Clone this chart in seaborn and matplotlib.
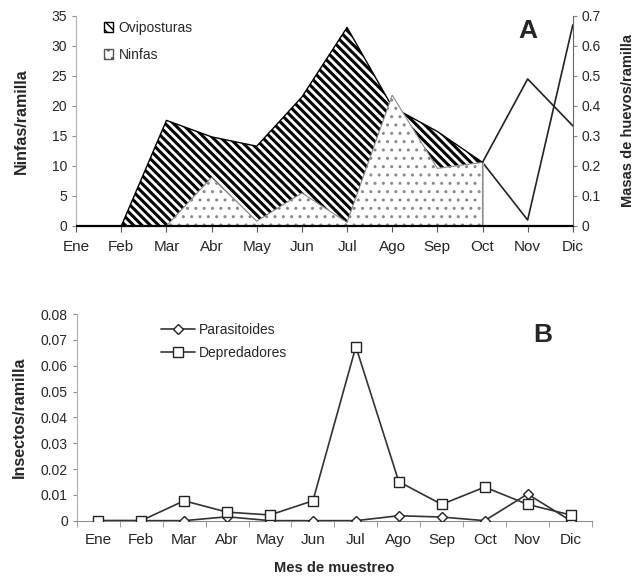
import numpy as np
import pandas as pd
import matplotlib
matplotlib.use('Agg')
import matplotlib.pyplot as plt
from matplotlib.patches import Patch
from matplotlib.lines import Line2D
import seaborn as sns

meses = ['Ene', 'Feb', 'Mar', 'Abr', 'May', 'Jun', 'Jul', 'Ago', 'Sep', 'Oct', 'Nov', 'Dic']
# panel A
ninfas = [0, 0, 0, 8.1, 0.8, 5.5, 0.6, 21.8, 9.6, 10.6, 24.5, 16.7]          # ninfas/ramilla
oviposturas = [0, 0, 0.352, 0.297, 0.266, 0.43, 0.662, 0.397, 0.315, 0.212, 0.02, 0.67]  # masas/ramilla
n_area = 10  # areas filled Ene..Oct, lines afterwards
# panel B
parasitoides = [0, 0, 0, 0.0015, 0, 0, 0, 0.0019, 0.0014, 0, 0.0103, 0]
depredadores = [0, 0, 0.0077, 0.0033, 0.0022, 0.0077, 0.0674, 0.0151, 0.0063, 0.013, 0.0063, 0.0022]

sns.set_style('ticks')
plt.rcParams['font.family'] = ['Liberation Sans', 'DejaVu Sans']
plt.rcParams['hatch.linewidth'] = 2.2

fig = plt.figure(figsize=(6.4, 5.85), dpi=100)
spine_c = '#8c8c8c'

# ---------- panel A ----------
ax = fig.add_axes([0.119, 0.6137, 0.776, 0.359])
ax2 = ax.twinx()
x = np.arange(len(meses))
dfa = pd.DataFrame({'mes': x, 'ninfas': ninfas, 'ovi': oviposturas})
area = dfa.iloc[:n_area]
tail = dfa.iloc[n_area - 1:]

ax2.fill_between(area['mes'], 0, area['ovi'], facecolor='white', edgecolor='black',
                 hatch='\\\\\\\\', linewidth=1.0)
sns.lineplot(data=tail, x='mes', y='ovi', ax=ax2, color='#222222', linewidth=1.2)

plt.rcParams['hatch.linewidth'] = 1.0
ax.fill_between(area['mes'], 0, area['ninfas'], facecolor='white', edgecolor='#8a8a8a',
                hatch='..', linewidth=0.8)
ax.plot([area['mes'].iloc[-1]] * 2, [0, area['ninfas'].iloc[-1]], color='#bbbbbb', lw=0.8)
sns.lineplot(data=tail, x='mes', y='ninfas', ax=ax, color='#222222', linewidth=1.2)
ax.axhline(0, color='black', lw=1.6, zorder=5)

ax.set_zorder(ax2.get_zorder() + 1)
ax.patch.set_visible(False)

ax.set_xlim(0, 11)
ax.set_ylim(0, 35)
ax2.set_ylim(0, 0.7)
ax.set_yticks(np.arange(0, 36, 5))
ax2.set_yticks(np.arange(0, 0.71, 0.1))
ax2.set_yticklabels(['0'] + [f'{v:.1f}' for v in np.arange(0.1, 0.71, 0.1)])
ax.set_xticks(x)
ax.set_xticklabels(meses, fontsize=11)
ax.tick_params(axis='y', labelsize=10, color=spine_c, length=3)
ax2.tick_params(axis='y', labelsize=10, color=spine_c, length=3)
ax.tick_params(axis='x', color='#555555', length=4, pad=6)
for a in (ax, ax2):
    a.spines['top'].set_visible(False)
    a.spines['left'].set_color('#b0b0b0')
    a.spines['right'].set_color('#666666')
    a.spines['bottom'].set_color('black')
ax.spines['right'].set_visible(False)
ax2.spines['left'].set_visible(False)
ax.set_xlabel('')
ax2.set_xlabel('')
ax.set_ylabel('Ninfas/ramilla', fontsize=11.5, fontweight='bold', labelpad=16)
ax2.set_ylabel('Masas de huevos/ramilla', fontsize=10.5, fontweight='bold', labelpad=14)

handles = [Patch(facecolor='white', edgecolor='black', hatch='\\\\\\\\', label='Oviposturas'),
           Patch(facecolor='white', edgecolor='#555555', hatch='..', label='Ninfas')]
ax.legend(handles=handles, loc='upper left', bbox_to_anchor=(0.03, 1.035), frameon=False,
          fontsize=10, handlelength=0.7, handleheight=0.7, handletextpad=0.4, labelspacing=0.9)
ax.text(0.91, 0.93, 'A', transform=ax.transAxes, fontsize=19, fontweight='bold', ha='center', va='center')

# ---------- panel B ----------
bx = fig.add_axes([0.120, 0.110, 0.805, 0.353])
dfb = pd.DataFrame({'mes': x, 'Parasitoides': parasitoides, 'Depredadores': depredadores})
sns.lineplot(data=dfb, x='mes', y='Parasitoides', ax=bx, color='#333333', lw=1.2,
             marker='D', markersize=5.5, markerfacecolor='white', markeredgecolor='#222222',
             markeredgewidth=1.0, zorder=3)
sns.lineplot(data=dfb, x='mes', y='Depredadores', ax=bx, color='#333333', lw=1.2,
             marker='s', markersize=7, markerfacecolor='white', markeredgecolor='#222222',
             markeredgewidth=1.0, zorder=4)
bx.set_xlim(-0.5, 11.5)
bx.set_ylim(0, 0.08)
bx.set_yticks(np.arange(0, 0.081, 0.01))
bx.set_yticklabels(['0'] + [f'{v:.2f}' for v in np.arange(0.01, 0.081, 0.01)])
bx.set_xticks(x)
bx.set_xticklabels(meses, fontsize=11)
bx.set_xticks(np.arange(-0.5, 12, 1), minor=True)
bx.tick_params(axis='x', which='major', length=0, pad=9)
bx.tick_params(axis='x', which='minor', length=4, color=spine_c)
bx.tick_params(axis='y', labelsize=10, color=spine_c, length=3)
bx.spines['top'].set_visible(False)
bx.spines['right'].set_visible(False)
bx.spines['left'].set_color('#b0b0b0')
bx.spines['bottom'].set_color(spine_c)
bx.set_xlabel('Mes de muestreo', fontsize=10.5, fontweight='bold', labelpad=10)
bx.set_ylabel('Insectos/ramilla', fontsize=11.5, fontweight='bold', labelpad=10)

lh = [Line2D([], [], color='#333333', lw=1.2, marker='D', markersize=5.5, markerfacecolor='white',
             markeredgecolor='#222222', label='Parasitoides'),
      Line2D([], [], color='#333333', lw=1.2, marker='s', markersize=7, markerfacecolor='white',
             markeredgecolor='#222222', label='Depredadores')]
bx.legend(handles=lh, loc='upper left', bbox_to_anchor=(0.14, 1.02), frameon=False,
          fontsize=10, handlelength=2.4, handletextpad=0.3, labelspacing=0.7)
bx.text(0.905, 0.9, 'B', transform=bx.transAxes, fontsize=19, fontweight='bold', ha='center', va='center')

fig.savefig('out.png', dpi=100)
